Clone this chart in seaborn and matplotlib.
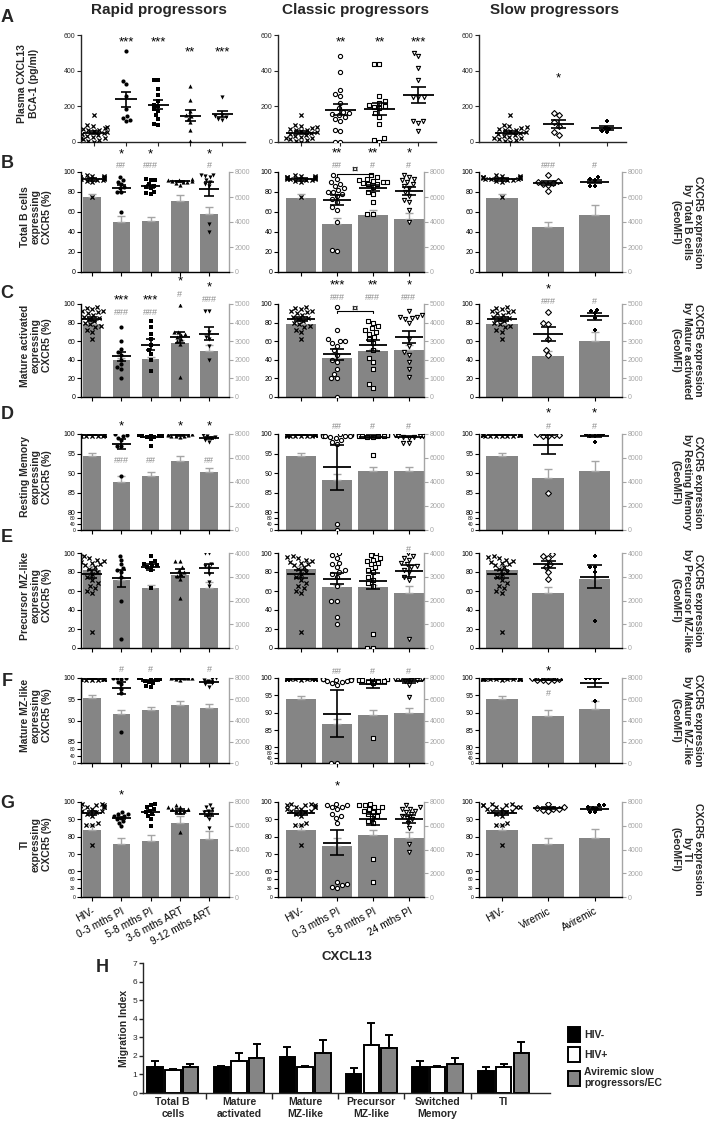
import warnings
import numpy as np
import pandas as pd
import matplotlib
matplotlib.use("Agg")
import matplotlib.pyplot as plt
import seaborn as sns
from matplotlib import font_manager

warnings.filterwarnings("ignore")

# ---------------- data ----------------
rapid_groups = ["HIV-", "0-3 mths PI", "5-8 mths PI", "3-6 mths ART", "9-12 mths ART"]
classic_groups = ["HIV-", "0-3 mths PI", "5-8 mths PI", "24 mths PI"]
slow_groups = ["HIV-", "Viremic", "Aviremic"]

# shared HIV- controls (one list per panel)
hiv_A = [150, 95, 90, 85, 80, 75, 70, 65, 60, 55, 50, 45, 40, 35, 30, 25, 20, 15, 10, 5, 0]
hiv_B = [97, 96, 96, 95, 95, 95, 94, 94, 94, 93, 93, 93, 92, 92, 91, 90, 75]
hiv_C = [97, 96, 95, 93, 92, 91, 90, 88, 86, 85, 84, 82, 80, 78, 76, 75, 72, 70, 62]
hiv_D = [100, 99.9, 99.9, 99.8, 99.8, 99.7, 99.7, 99.6, 99.6, 99.5, 99.9, 100, 99.8, 99.7, 99.9, 99.6, 99.8, 99.5, 99.4, 99.8]
hiv_E = [97, 96, 95, 93, 92, 91, 90, 88, 87, 85, 83, 80, 78, 75, 72, 68, 65, 63, 60, 58, 17]
hiv_F = [100, 99.9, 99.9, 99.8, 99.8, 99.8, 99.7, 99.7, 99.6, 99.9, 100, 99.8, 99.7, 99.9, 99.6, 99.8, 99.5, 99.9, 99.7, 99.8]
hiv_G = [99, 99, 98, 98, 98, 97, 97, 97, 96, 96, 95, 95, 94, 93, 92, 88, 87, 87, 75]

# A: plasma CXCL13 (pg/ml)
A_rapid = [hiv_A, [510, 340, 325, 260, 185, 145, 135, 125, 120],
           [345, 345, 300, 265, 230, 210, 200, 185, 175, 150, 130, 100, 95],
           [315, 235, 175, 150, 145, 130, 110, 70, 5], [250, 150, 145, 140, 130, 125]]
A_classic = [hiv_A, [480, 395, 290, 270, 260, 220, 190, 170, 160, 155, 150, 140, 130, 120, 70, 60, 0, 0],
             [440, 435, 260, 230, 220, 210, 200, 195, 190, 160, 140, 100, 20, 10, 0],
             [500, 485, 415, 345, 255, 250, 250, 120, 115, 105, 60]]
A_slow = [hiv_A, [165, 150, 110, 90, 55, 40], [120, 80, 75, 60, 55]]

# B-G: % expressing CXCR5 (points)
B_rapid = [hiv_B, [95, 92, 90, 88, 85, 84, 80, 80, 60], [93, 92, 92, 88, 86, 85, 84, 80, 79, 78],
           [93, 92, 92, 91, 91, 90, 90, 89, 87], [97, 97, 96, 95, 92, 90, 88, 86, 48, 40]]
B_classic = [hiv_B, [97, 93, 90, 88, 86, 84, 82, 80, 80, 78, 76, 73, 70, 65, 62, 50, 22, 21],
             [97, 95, 93, 92, 91, 90, 90, 89, 88, 88, 85, 80, 78, 70, 58, 58],
             [97, 95, 93, 92, 90, 88, 86, 84, 80, 76, 72, 70, 62, 50]]
B_slow = [hiv_B, [97, 91, 90, 89, 88, 87, 81], [95, 93, 92, 86, 86]]

C_rapid = [hiv_C, [75, 60, 52, 48, 45, 40, 35, 32, 30, 20], [82, 75, 68, 62, 56, 50, 46, 40, 28],
           [99, 70, 70, 68, 67, 65, 62, 60, 57, 22], [93, 92, 70, 65, 62, 55, 40]]
C_classic = [hiv_C, [97, 72, 62, 60, 60, 58, 55, 50, 45, 40, 38, 30, 25, 20, 20, 0],
             [82, 80, 76, 74, 72, 70, 68, 65, 62, 58, 50, 42, 38, 30, 14, 10],
             [92, 88, 86, 86, 85, 84, 80, 62, 55, 48, 45, 38, 30, 22]]
C_slow = [hiv_C, [91, 80, 78, 62, 50, 45], [94, 93, 90, 85, 72]]

D_rapid = [hiv_D, [99.9, 99.8, 99.5, 99, 98.5, 97, 97, 89.3],
           [100, 99.9, 99.8, 99.8, 99.7, 99.6, 99.5, 99.4, 99.3, 99.2, 98.8, 97],
           [100, 99.9, 99.8, 99.7, 99.6, 99.5, 99.4, 99.3], [99.8, 99.5, 99.3, 99, 98.5, 98]]
D_classic = [hiv_D, [100, 100, 100, 99.9, 99.9, 99.8, 99.8, 99.7, 99.7, 99.6, 99.5, 99.5, 99.4, 99.3, 99, 98.5, 98, 97.5, 0, 40],
             [100, 100, 99.9, 99.9, 99.8, 99.8, 99.7, 99.7, 99.6, 99.5, 99.5, 99.4, 99.3, 99.2, 94.7],
             [100, 99.9, 99.9, 99.8, 99.8, 99.7, 99.6, 99.5, 99.4, 99.3, 99.2, 99, 97.7, 97.6]]
D_slow = [hiv_D, [100, 99.8, 99.7, 99.6, 99.5, 85], [100, 99.9, 99.8, 99.6, 99.4, 98]]

E_rapid = [hiv_E, [97, 93, 88, 84, 82, 80, 75, 50, 10], [97, 92, 90, 88, 87, 86, 85, 82, 63],
           [92, 92, 85, 82, 80, 78, 76, 73, 53], [100, 100, 88, 86, 84, 78, 70, 65]]
E_classic = [hiv_E, [100, 98, 95, 90, 88, 85, 82, 80, 78, 75, 65, 50, 50, 33, 25],
             [100, 98, 95, 93, 92, 90, 88, 85, 82, 80, 75, 72, 68, 65, 15, 0, 0],
             [100, 97, 95, 93, 90, 88, 86, 85, 82, 80, 75, 72, 10]]
E_slow = [hiv_E, [99, 97, 95, 88, 85, 80, 73], [97, 85, 85, 80, 28]]

F_rapid = [hiv_F, [100, 100, 99.9, 99.8, 99, 98.5, 97.5, 96.5, 87.2],
           [100, 99.9, 99.8, 99.7, 99.5, 99.3, 99, 98.8, 98.2, 98],
           [100, 100, 100, 99.9, 99.8, 99.5], [100, 99.8, 99.5, 99.3, 98.8, 98.5, 98]]
F_classic = [hiv_F, [100, 100, 100, 100, 99.9, 99.9, 99.8, 99.8, 99.7, 99.7, 99.6, 99.5, 99.4, 99.2, 99, 98.8, 98.5, 98, 1, 3],
             [100, 100, 99.9, 99.9, 99.8, 99.8, 99.6, 99.5, 99.4, 99.2, 99, 98.8, 98.5, 82.8],
             [100, 100, 99.9, 99.9, 99.8, 99.7, 99.6, 99.5, 99.4, 99.2, 98, 94.5]]
F_slow = [hiv_F, [100, 99.7, 99.5, 99.4, 99.3, 99.2], [100, 100, 100, 99.8, 93.5]]

G_rapid = [hiv_G, [94, 93, 93, 92, 92, 91, 90, 89, 88, 86], [99, 98, 97, 96, 95, 94, 93, 92, 90, 86],
           [98, 97, 97, 96, 96, 95, 95, 94, 83], [98, 97, 96, 95, 94, 93, 92, 90, 85]]
G_classic = [hiv_G, [99, 98, 98, 97, 97, 96, 93, 92, 91, 88, 50, 45, 40, 35, 30],
             [99, 98, 98, 97, 97, 96, 95, 95, 94, 93, 92, 91, 89, 88, 67, 50],
             [98, 97, 96, 96, 95, 94, 93, 92, 91, 90, 88, 85, 76, 71]]
G_slow = [hiv_G, [99, 97, 96.5, 96, 96, 95.5, 95], [98, 98, 97, 96.5, 96, 94, 94]]

# GeoMFI bars (right axis) and their upper error
B_bar = [[6000, 4040, 4080, 5720, 4680], [5960, 3880, 4600, 4280], [5960, 3600, 4560]]
B_err = [[280, 480, 360, 440, 520], [280, 440, 360, 440], [280, 400, 800]]
C_bar = [[3900, 1975, 2025, 2900, 2475], [3950, 2100, 2450, 2525], [3925, 2225, 3025]]
C_err = [[150, 100, 100, 150, 300], [150, 200, 150, 250], [150, 250, 475]]
D_bar = [[6140, 4020, 4510, 5780, 4800], [6140, 4180, 4930, 4900], [6140, 4340, 4900]]
D_err = [[300, 490, 330, 360, 330], [300, 460, 330, 330], [300, 720, 820]]
E_bar = [[3300, 2880, 2520, 3080, 2520], [3320, 2560, 2560, 2320], [3300, 2300, 2900]]
E_err = [[140, 80, 140, 120, 240], [140, 100, 100, 280], [140, 260, 100]]
F_bar = [[6120, 4600, 4960, 5480, 5160], [6010, 3690, 4510, 4670], [6040, 4410, 5060]]
F_err = [[280, 400, 320, 320, 360], [280, 490, 490, 460], [260, 590, 780]]
G_bar = [[5660, 4490, 4750, 6240, 4860], [5660, 4270, 5220, 4930], [5660, 4490, 5000]]
G_err = [[370, 510, 470, 590, 730], [370, 660, 440, 510], [370, 510, 730]]

# significance marks: (stars, star height, hashes, hash height)
A_marks = [(["", "***", "***", "**", "***"], [0, 560, 560, 505, 505]),
           (["", "**", "**", "***"], 560), (["", "*", ""], 355)]
B_marks = [(["", "*", "*", "", "*"], 118, ["", "##", "###", "", "#"], 106),
           (["", "**", "**", "*"], 119, ["", "##", "#", "#"], 107),
           (["", "", ""], 119, ["", "###", "#"], 107)]
C_marks = [(["", "***", "***", "*", "*"], [0, 104, 104, 124, 118], ["", "###", "###", "#", "###"], [0, 91, 91, 110, 105]),
           (["", "***", "**", "*"], 120, ["", "###", "###", "###"], 107),
           (["", "*", ""], 116, ["", "###", "#"], 103)]
D_marks = [(["", "*", "", "*", "*"], 102, ["", "###", "##", "", "##"], 93.2),
           (["", "", "", ""], 104, ["", "##", "#", "#"], 102),
           (["", "*", "*"], 105.2, ["", "#", "#"], 101.9)]
E_marks = [([""] * 5, 104, [""] * 5, 104),
           ([""] * 4, 104, ["", "", "", "#"], 104),
           ([""] * 3, 104, [""] * 3, 104)]
F_marks = [([""] * 5, 102, ["", "#", "#", "", "#"], 102),
           ([""] * 4, 102, ["", "##", "#", "#"], 102),
           (["", "*", ""], 102, ["", "#", ""], 95.5)]
G_marks = [(["", "*", "", "", ""], 104, [""] * 5, 104),
           (["", "*", "", ""], 109, [""] * 4, 104),
           ([""] * 3, 104, [""] * 3, 104)]
B_bracket = (1, 2, 98, 103)     # from group, to group, line height, symbol height
C_bracket = (1, 2, 92, 95.5)

# broken left axes: (break value, bottom, top of lower part, lower ticks, upper ticks)
D_axis = [(80, 75.5, 78.5, [0, 40, 80], [80, 85, 90, 95, 100])] * 3
F_axis = [(85, 80, 83.5, [0, 40, 80], [85, 90, 95, 100]),
          (80, 75.5, 78.5, [0, 40, 80], [80, 85, 90, 95, 100]),
          (80, 75.5, 78.5, [0, 40, 80], [80, 85, 90, 95, 100])]
G_axis = [(60, 45.3, 55.6, [0, 30, 60], [60, 70, 80, 90, 100])] * 3

# panel H: migration index
h_subsets = ["Total B\ncells", "Mature\nactivated", "Mature\nMZ-like", "Precursor\nMZ-like", "Switched\nMemory", "TI"]
h_groups = ["HIV-", "HIV+", "Aviremic slow\nprogressors/EC"]
h_neg = [1.42, 1.38, 1.95, 1.05, 1.38, 1.18]
h_neg_err = [0.28, 0.10, 0.52, 0.32, 0.33, 0.20]
h_pos = [1.25, 1.70, 1.40, 2.60, 1.38, 1.40]
h_pos_err = [0.04, 0.48, 0.05, 1.18, 0.08, 0.15]
h_avir = [1.40, 1.90, 2.13, 2.43, 1.55, 2.18]
h_avir_err = [0.15, 0.72, 0.73, 0.67, 0.33, 0.55]

# ---------------- style ----------------
sns.set_theme(style="ticks")
installed = {f.name for f in font_manager.fontManager.ttflist}
NARROW = "Liberation Sans Narrow" if "Liberation Sans Narrow" in installed else "Liberation Sans"
plt.rcParams["font.family"] = ["Liberation Sans", "DejaVu Sans"]
plt.rcParams["axes.linewidth"] = 1.0

GRAY = "#858585"
LGRAY = "#a5a5a5"
HASH = "#8c8c8c"
W, H = 704, 1125
fig = plt.figure(figsize=(W / 100, H / 100), dpi=100)


def add_ax(x0, x1, y0, y1):
    return fig.add_axes([x0 / W, 1 - y1 / H, (x1 - x0) / W, (y1 - y0) / H])


GROUPS = [rapid_groups, classic_groups, slow_groups]
MARKERS = [["x", "o", "s", "^", "v"], ["x", "o", "s", "v"], ["x", "D", "P"]]
OPEN = [[False] * 5, [False, True, True, True], [False, True, False]]
COLS = [(81, 229), (278, 424), (479, 622)]
COLS_A = [(81, 245), (278, 436), (479, 626)]
XLIM = [(-0.38, 4.68), (-0.64, 3.42), (-0.49, 2.59)]
XLIM_A = [(-0.4, 4.7), (-0.6, 3.45), (-0.65, 2.4)]
BAR_W = [0.6, 0.82, 0.68]
HALF = [0.33, 0.4, 0.32]
ROWS = {"A": (35, 142), "B": (172, 272), "C": (304, 397), "D": (434, 530),
        "E": (553, 648), "F": (678, 763), "G": (802, 897)}


def break_scale(brk, bottom, top):
    k = (top - bottom) / brk

    def fwd(y):
        y = np.asarray(y, dtype=float)
        return np.where(y >= brk, y, bottom + y * k)

    def inv(d):
        d = np.asarray(d, dtype=float)
        return np.where(d >= brk, d, np.clip((d - bottom) / k, -1e9, brk))
    return fwd, inv


def draw_points(ax, groups, values, c, size=3.0):
    for i, (g, vals) in enumerate(zip(groups, values)):
        m = MARKERS[c][i]
        kw = dict(x=[g] * len(vals), y=vals, order=groups, marker=m, size=size, ax=ax, zorder=3)
        if m == "x":
            sns.swarmplot(color="black", linewidth=0.9, **kw)
        elif OPEN[c][i]:
            sns.swarmplot(color="white", edgecolor="black", linewidth=0.8, **kw)
        else:
            sns.swarmplot(color="black", linewidth=0, **kw)
        mean = np.mean(vals)
        sem = np.std(vals, ddof=1) / np.sqrt(len(vals))
        h = HALF[c]
        ax.hlines(mean, i - h, i + h, color="black", lw=1.3, zorder=4)
        ax.vlines(i, mean - sem, mean + sem, color="black", lw=1.2, zorder=4)
        ax.hlines([mean - sem, mean + sem], i - h / 2, i + h / 2, color="black", lw=1.2, zorder=4)


def annotate(ax, texts, ys, color, size):
    ys = np.broadcast_to(ys, (len(texts),))
    for i, (t, y) in enumerate(zip(texts, ys)):
        if t:
            ax.text(i, y, t, ha="center", va="center", color=color, fontsize=size,
                    fontfamily=NARROW, clip_on=False, zorder=6)


# ---------------- column titles & panel letters ----------------
for (x0, x1), title in zip(COLS, ["Rapid progressors", "Classic progressors", "Slow progressors"]):
    fig.text((x0 + x1) / 2 / W + 0.006, 1 - 10 / H, title, ha="center", va="center",
             fontsize=11, fontweight="bold", fontfamily=NARROW)
for letter, ypx in zip("ABCDEFG", [17, 163, 293, 415, 537, 682, 803]):
    fig.text(7 / W, 1 - ypx / H, letter, ha="center", va="center", fontsize=13,
             fontweight="bold", fontfamily=NARROW)

left_labels = {"A": "Plasma CXCL13\nBCA-1 (pg/ml)", "B": "Total B cells\nexpressing\nCXCR5 (%)",
               "C": "Mature activated\nexpressing\nCXCR5 (%)", "D": "Resting Memory\nexpressing\nCXCR5 (%)",
               "E": "Precursor MZ-like\nexpressing\nCXCR5 (%)", "F": "Mature MZ-like\nexpressing\nCXCR5 (%)",
               "G": "TI\nexpressing\nCXCR5 (%)"}
right_labels = {"B": "Total B cells", "C": "Mature activated", "D": "Resting Memory",
                "E": "Precursor MZ-like", "F": "Mature MZ-like", "G": "TI"}
for key, (y0, y1) in ROWS.items():
    xc = 28 if key == "A" else 36
    fig.text(xc / W, 1 - ((y0 + y1) / 2 - 5) / H, left_labels[key], rotation=90, ha="center",
             va="center", fontsize=7.5, fontweight="bold", linespacing=1.15, multialignment="center")
    if key in right_labels:
        fig.text(687 / W, 1 - (y0 + y1) / 2 / H, "CXCR5 expression\nby " + right_labels[key] + "\n(GeoMFI)",
                 rotation=270, ha="center", va="center", fontsize=7.5, fontweight="bold",
                 linespacing=1.15, multialignment="center")

# ---------------- row A ----------------
for c, (vals, marks) in enumerate(zip([A_rapid, A_classic, A_slow], A_marks)):
    ax = add_ax(*COLS_A[c], *ROWS["A"])
    draw_points(ax, GROUPS[c], vals, c)
    annotate(ax, marks[0], marks[1], "black", 9.5)
    ax.set_ylim(0, 600)
    ax.set_yticks([0, 200, 400, 600])
    ax.set_xlim(*XLIM_A[c])
    ax.set_xticks(range(len(GROUPS[c])))
    ax.set_xticklabels([])
    ax.set_xlabel("")
    ax.set_ylabel("")
    sns.despine(ax=ax)
    ax.tick_params(axis="y", labelsize=5, length=3, width=0.8, pad=1)
    ax.tick_params(axis="x", length=3, width=0.8)
    for t in ax.get_yticklabels():
        t.set_fontfamily(NARROW)

# ---------------- rows B-G ----------------
rows = [
    ("B", [B_rapid, B_classic, B_slow], B_bar, B_err, B_marks, 8000, 2000, None),
    ("C", [C_rapid, C_classic, C_slow], C_bar, C_err, C_marks, 5000, 1000, None),
    ("D", [D_rapid, D_classic, D_slow], D_bar, D_err, D_marks, 8000, 2000, D_axis),
    ("E", [E_rapid, E_classic, E_slow], E_bar, E_err, E_marks, 4000, 1000, None),
    ("F", [F_rapid, F_classic, F_slow], F_bar, F_err, F_marks, 8000, 2000, F_axis),
    ("G", [G_rapid, G_classic, G_slow], G_bar, G_err, G_marks, 8000, 2000, G_axis),
]

for key, points, bars, errs, marks, mfi_max, mfi_step, axis_spec in rows:
    for c in range(3):
        groups = GROUPS[c]
        ax = add_ax(*COLS[c], *ROWS[key])
        ax2 = ax.twinx()

        # bars: GeoMFI on the right-hand axis
        sns.barplot(x=groups, y=bars[c], order=groups, color=GRAY, saturation=1,
                    width=BAR_W[c], errorbar=None, linewidth=0, ax=ax)
        xs = [p.get_x() + p.get_width() / 2 for p in ax.patches]
        ax.errorbar(xs, bars[c], yerr=[np.zeros(len(xs)), errs[c]], fmt="none", ecolor=LGRAY,
                    elinewidth=1.0, capsize=3, capthick=1.0, zorder=2)
        ax.set_ylim(0, mfi_max)
        ax.set_yticks(np.arange(0, mfi_max + 1, mfi_step))
        ax.yaxis.tick_right()
        ax.tick_params(axis="y", colors=LGRAY, labelsize=5, length=3, width=0.8, pad=1)
        for t in ax.get_yticklabels():
            t.set_fontfamily(NARROW)
        ax.spines["right"].set_color(LGRAY)
        ax.spines["left"].set_visible(False)
        ax.spines["top"].set_visible(False)
        ax.spines["bottom"].set_color("black")
        ax.set_xlabel("")
        ax.set_ylabel("")

        # points: % expressing on the left-hand axis
        if axis_spec is not None:
            brk, bottom, top, low_t, up_t = axis_spec[c]
            ax2.set_yscale("function", functions=break_scale(brk, bottom, top))
        ax2.set_ylim(0, 100)
        draw_points(ax2, groups, points[c], c)
        annotate(ax2, marks[c][0], marks[c][1], "black", 9.5)
        annotate(ax2, marks[c][2], marks[c][3], HASH, 6.5)
        if c == 1 and key in ("B", "C"):
            g0, g1, yb, ys = B_bracket if key == "B" else C_bracket
            ax2.plot([g0, g0, g1, g1], [yb - 1.5, yb, yb, yb - 1.5], color="black", lw=0.8, zorder=5)
            ax2.text((g0 + g1) / 2, ys, "\u00a4", ha="center", va="center", fontsize=8,
                     fontweight="bold", clip_on=False, zorder=6)
        ax2.yaxis.tick_left()
        if axis_spec is not None:
            lows = [min(v, brk - 1e-3) for v in low_t]
            ax2.set_yticks(lows + up_t)
            ax2.set_yticklabels([str(v) for v in low_t] + [str(v) for v in up_t])
        else:
            ax2.set_yticks(np.arange(0, 101, 20))
        ax2.tick_params(axis="y", labelsize=5, length=3, width=0.8, pad=1, colors="black")
        if axis_spec is not None:
            for t in ax2.get_yticklabels()[:len(low_t)]:
                t.set_fontsize(3.5)
        for t in ax2.get_yticklabels():
            t.set_fontfamily(NARROW)
        for s in ["top", "right", "bottom"]:
            ax2.spines[s].set_visible(False)
        ax2.spines["left"].set_color("black")
        ax2.set_xlabel("")
        ax2.set_ylabel("")

        ax.set_xlim(*XLIM[c])
        ax.set_xticks(range(len(groups)))
        ax.tick_params(axis="x", length=3, width=0.8, colors="black")
        if key == "G":
            ax.set_xticklabels(groups, rotation=28, ha="right", rotation_mode="anchor", fontsize=7.3)
        else:
            ax.set_xticklabels([])

# ---------------- panel H ----------------
h_df = pd.concat([
    pd.DataFrame({"subset": h_subsets, "group": g, "mi": v})
    for g, v in zip(h_groups, [h_neg, h_pos, h_avir])
])
axh = add_ax(143, 550, 963, 1093)
sns.barplot(data=h_df, x="subset", y="mi", hue="group", order=h_subsets, hue_order=h_groups,
            palette=["black", "white", GRAY], saturation=1, edgecolor="black", linewidth=1.4,
            errorbar=None, width=0.8, gap=0.12, ax=axh)
for cont, err in zip(axh.containers, [h_neg_err, h_pos_err, h_avir_err]):
    xs = [b.get_x() + b.get_width() / 2 for b in cont]
    hs = [b.get_height() for b in cont]
    axh.errorbar(xs, hs, yerr=[np.zeros(len(xs)), err], fmt="none", ecolor="black",
                 elinewidth=1.4, capsize=3, capthick=1.4, zorder=1)
axh.set_ylim(0, 7)
axh.set_yticks(range(8))
axh.set_xlim(-0.45, 5.7)
axh.set_xticks(range(len(h_subsets)))
axh.set_xticklabels(h_subsets, fontsize=7.5, fontweight="bold")
axh.set_xticks(np.arange(0.5, len(h_subsets) - 0.5, 1), minor=True)
axh.tick_params(axis="x", which="major", length=0, pad=3)
axh.tick_params(axis="x", which="minor", length=4, width=1.0)
axh.tick_params(axis="y", labelsize=6, length=3, width=1.0, pad=1)
axh.set_xlabel("")
axh.set_ylabel("Migration Index", fontsize=7.5, fontweight="bold", labelpad=3)
axh.set_title("CXCL13", fontsize=9.5, fontweight="bold", pad=2)
sns.despine(ax=axh)
handles, _ = axh.get_legend_handles_labels()
axh.legend(handles, h_groups, loc="upper left", bbox_to_anchor=(1.02, 0.58), frameon=False,
           prop=dict(weight="bold", size=7.5), handlelength=1.2, handleheight=1.8,
           labelspacing=0.5, handletextpad=0.4)
fig.text(102 / W, 1 - 967 / H, "H", ha="center", va="center", fontsize=13, fontweight="bold",
         fontfamily=NARROW)

fig.savefig("out.png", dpi=100)
